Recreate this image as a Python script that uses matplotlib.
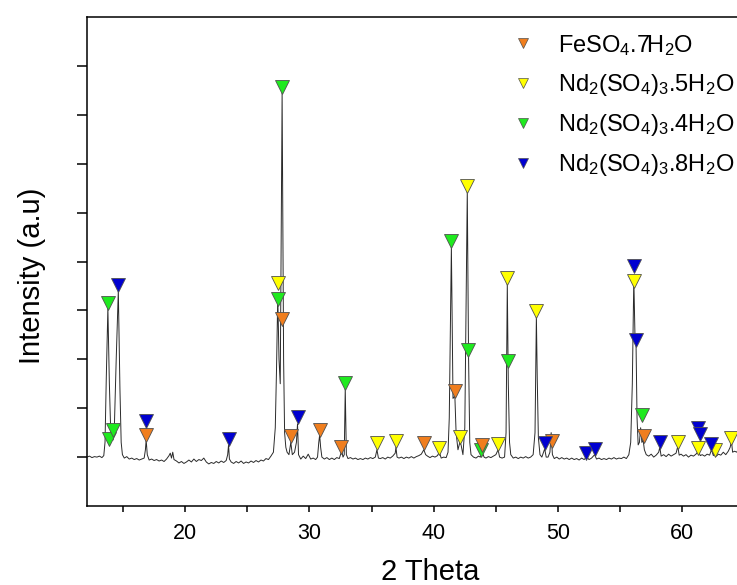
import matplotlib
matplotlib.use("Agg")
import matplotlib.pyplot as plt
from matplotlib.lines import Line2D

plt.rcParams["font.family"] = ["Liberation Sans", "DejaVu Sans"]
plt.rcParams["mathtext.default"] = "regular"

# XRD trace (2 theta, intensity in tick units)
theta = [
    12.1, 12.3, 12.5, 12.7, 12.9, 13.1, 13.3, 13.45, 13.55, 13.65, 13.78, 13.9,
    14.0, 14.1, 14.2, 14.3, 14.45, 14.62, 14.75, 14.85, 14.95, 15.1, 15.3, 15.5,
    15.7, 15.9, 16.1, 16.3, 16.5, 16.7, 16.8, 16.86, 16.95, 17.1, 17.3, 17.5,
    17.7, 17.9, 18.1, 18.3, 18.5, 18.7, 18.8, 18.9, 19.0, 19.1, 19.3, 19.5,
    19.7, 19.9, 20.1, 20.3, 20.5, 20.7, 20.9, 21.1, 21.3, 21.5, 21.7, 21.9,
    22.1, 22.3, 22.5, 22.7, 22.9, 23.1, 23.3, 23.42, 23.49, 23.56, 23.7, 23.9,
    24.1, 24.3, 24.5, 24.7, 24.9, 25.1, 25.3, 25.5, 25.7, 25.9, 26.1, 26.3,
    26.5, 26.7, 26.9, 27.1, 27.25, 27.35, 27.45, 27.55, 27.65, 27.8, 27.92, 28.0,
    28.1, 28.2, 28.35, 28.5, 28.62, 28.8, 28.95, 29.04, 29.12, 29.3, 29.5, 29.7,
    29.9, 30.1, 30.3, 30.5, 30.65, 30.75, 30.82, 30.9, 31.0, 31.2, 31.4, 31.6,
    31.8, 32.0, 32.2, 32.4, 32.5, 32.6, 32.7, 32.8, 32.88, 32.97, 33.1, 33.3,
    33.5, 33.7, 33.9, 34.1, 34.3, 34.5, 34.7, 34.9, 35.1, 35.3, 35.43, 35.55,
    35.7, 35.9, 36.1, 36.3, 36.5, 36.7, 36.9, 36.96, 37.05, 37.2, 37.4, 37.6,
    37.8, 38.0, 38.2, 38.4, 38.6, 38.8, 39.0, 39.2, 39.35, 39.5, 39.7, 39.9,
    40.1, 40.3, 40.45, 40.6, 40.8, 41.0, 41.15, 41.25, 41.42, 41.55, 41.7, 41.8,
    41.95, 42.1, 42.2, 42.35, 42.5, 42.6, 42.7, 42.8, 42.9, 43.0, 43.2, 43.4,
    43.6, 43.75, 43.9, 44.05, 44.2, 44.4, 44.6, 44.8, 45.0, 45.18, 45.3, 45.5,
    45.7, 45.82, 45.92, 46.0, 46.1, 46.2, 46.4, 46.6, 46.8, 47.0, 47.2, 47.4,
    47.6, 47.8, 48.0, 48.15, 48.26, 48.33, 48.42, 48.55, 48.7, 48.93, 49.05, 49.2,
    49.35, 49.45, 49.55, 49.7, 49.9, 50.1, 50.3, 50.5, 50.7, 50.9, 51.1, 51.3,
    51.5, 51.7, 51.9, 52.1, 52.3, 52.5, 52.7, 52.95, 53.1, 53.3, 53.5, 53.7,
    53.9, 54.1, 54.3, 54.5, 54.7, 54.9, 55.1, 55.3, 55.5, 55.7, 55.85, 55.98,
    56.1, 56.2, 56.28, 56.36, 56.45, 56.55, 56.65, 56.75, 56.85, 56.95, 57.1, 57.3,
    57.5, 57.7, 57.9, 58.1, 58.19, 58.3, 58.5, 58.7, 58.9, 59.1, 59.3, 59.5,
    59.64, 59.75, 59.9, 60.1, 60.3, 60.5, 60.7, 60.9, 61.1, 61.3, 61.45, 61.6,
    61.8, 62.0, 62.2, 62.35, 62.5, 62.6, 62.75, 62.9, 63.1, 63.3, 63.5, 63.7,
    63.85, 63.96, 64.05, 64.2, 64.4, 64.6, 64.8, 65.2, 65.6, 66.0, 66.5, 67.0,
    67.4,
]
counts = [
    0.00, 0.02, -0.01, 0.01, 0.00, 0.02, -0.01, 0.03, 0.30, 1.60, 3.05, 1.50,
    0.60, 0.45, 0.35, 0.60, 2.00, 3.40, 1.40, 0.30, 0.05, -0.02, 0.01, -0.04,
    -0.02, -0.05, -0.03, -0.06, -0.04, -0.02, 0.15, 0.35, 0.05, -0.06, -0.04, -0.07,
    -0.05, -0.08, -0.06, -0.09, -0.04, 0.03, 0.08, -0.02, 0.10, -0.05, -0.08, -0.12,
    -0.09, -0.13, -0.10, -0.06, -0.10, -0.04, -0.09, -0.05, -0.07, -0.02, -0.10, -0.14,
    -0.11, -0.13, -0.09, -0.12, -0.08, -0.11, -0.07, 0.05, 0.25, -0.04, -0.10, -0.13,
    -0.09, -0.12, -0.08, -0.13, -0.10, -0.12, -0.08, -0.11, -0.07, -0.10, -0.06, -0.08,
    -0.03, -0.05, 0.02, 0.10, 0.60, 1.80, 3.30, 2.00, 1.50, 7.45, 2.00, 0.50,
    0.20, 0.10, 0.05, 0.30, 0.05, 0.10, 0.30, 0.68, 0.05, -0.04, 0.02, -0.03,
    0.06, -0.04, -0.02, -0.05, 0.00, 0.30, 0.45, 0.20, 0.00, -0.04, -0.01, -0.05,
    -0.02, -0.05, -0.01, -0.03, 0.05, 0.12, 0.00, 0.05, 1.40, 0.05, -0.03, -0.01,
    -0.04, -0.02, -0.05, -0.03, -0.05, -0.02, -0.04, -0.01, -0.03, 0.00, 0.15, -0.02,
    -0.03, -0.01, -0.04, 0.00, -0.02, 0.02, 0.08, 0.20, 0.00, -0.02, 0.00, -0.03,
    0.00, -0.02, 0.01, -0.02, 0.01, 0.03, 0.06, 0.15, 0.05, 0.02, -0.01, 0.02,
    0.00, 0.03, 0.10, -0.02, 0.00, -0.01, 0.10, 0.80, 4.30, 1.20, 1.25, 0.50,
    0.15, 0.30, 0.25, 0.05, 0.60, 3.00, 5.45, 2.10, 0.30, 0.05, 0.00, -0.02,
    0.02, 0.00, 0.10, 0.00, -0.02, 0.01, -0.01, 0.02, 0.05, 0.15, 0.00, -0.02,
    0.00, 0.50, 3.55, 1.50, 0.30, 0.05, -0.02, 0.00, -0.03, 0.00, -0.02, 0.01,
    -0.02, 0.00, 0.05, 0.50, 2.88, 1.60, 0.40, 0.05, 0.00, 0.17, 0.00, 0.00,
    0.10, 0.50, 0.05, -0.03, 0.00, -0.04, -0.01, -0.04, -0.02, -0.05, -0.02, -0.05,
    -0.03, -0.06, -0.02, -0.05, 0.00, -0.05, -0.02, 0.05, -0.04, -0.02, -0.05, -0.03,
    -0.05, -0.02, -0.04, -0.01, -0.04, -0.02, -0.03, 0.00, -0.03, 0.05, 0.30, 1.50,
    3.65, 2.40, 2.30, 0.80, 0.25, 0.30, 0.60, 0.30, 0.35, 0.15, 0.05, 0.02,
    0.06, 0.00, 0.04, 0.10, 0.20, 0.02, 0.05, 0.01, 0.06, 0.02, 0.05, 0.08,
    0.22, 0.04, 0.06, 0.02, 0.05, 0.00, 0.04, 0.02, 0.06, 0.12, 0.03, 0.05,
    0.02, 0.06, 0.04, 0.15, 0.03, 0.07, 0.02, 0.06, 0.04, 0.10, 0.05, 0.12,
    0.20, 0.32, 0.10, 0.12, 0.10, 0.25, 0.08, 0.12, 0.06, 0.15, 0.08, 0.10,
    0.05,
]

# phase markers (2 theta, height)
fe7_x = [16.86, 27.78, 28.51, 30.81, 32.56, 39.24, 41.74, 43.9, 49.52, 56.9]
fe7_y = [0.46, 2.82, 0.43, 0.56, 0.21, 0.28, 1.35, 0.24, 0.33, 0.43]

nd5_x = [27.46, 35.43, 36.96, 40.45, 42.14, 42.68, 45.18, 45.9, 48.26, 56.1,
         59.64, 61.27, 62.6, 63.96]
nd5_y = [3.56, 0.28, 0.33, 0.18, 0.41, 5.55, 0.27, 3.67, 2.99, 3.6,
         0.31, 0.19, 0.14, 0.40]

nd4_x = [13.8, 13.9, 14.2, 27.46, 27.81, 32.88, 41.42, 42.76, 43.83, 45.98, 56.77]
nd4_y = [3.16, 0.37, 0.55, 3.24, 7.57, 1.52, 4.41, 2.18, 0.15, 1.97, 0.86]

nd8_x = [14.63, 16.86, 23.49, 29.04, 48.93, 52.29, 52.96, 56.15, 56.29, 58.19,
         61.28, 61.41, 62.35]
nd8_y = [3.51, 0.74, 0.37, 0.82, 0.28, 0.09, 0.16, 3.9, 2.40, 0.30,
         0.59, 0.48, 0.26]

phases = [
    (fe7_x, fe7_y, "#F07E1E", r"FeSO$_4$.7H$_2$O", 5),
    (nd5_x, nd5_y, "#FFFF00", r"Nd$_2$(SO$_4$)$_3$.5H$_2$O", 3),
    (nd4_x, nd4_y, "#1FEA1F", r"Nd$_2$(SO$_4$)$_3$.4H$_2$O", 4),
    (nd8_x, nd8_y, "#0000D0", r"Nd$_2$(SO$_4$)$_3$.8H$_2$O", 6),
]

fig = plt.figure(figsize=(7.37, 5.85), dpi=100)
ax = fig.add_axes([87 / 737, 79 / 585, 686 / 737, 489 / 585])

ax.plot(theta, counts, color="#2a2a2a", lw=0.7, zorder=2)

handles = []
for xs, ys, col, lab, z in phases:
    ax.plot(xs, ys, linestyle="none", marker="v", markersize=10.5,
            markerfacecolor=col, markeredgecolor="#505050", markeredgewidth=0.6,
            zorder=z)
    handles.append(Line2D([], [], linestyle="none", marker="v", markersize=7,
                          markerfacecolor=col, markeredgecolor="#505050",
                          markeredgewidth=0.5, label=lab))

ax.set_xlim(12.1, 67.3)
ax.set_ylim(-1, 9)
ax.set_xticks([20, 30, 40, 50, 60])
ax.set_xticks([15, 25, 35, 45, 55, 65], minor=True)
ax.set_yticks(range(0, 9))
ax.set_yticklabels([])
ax.tick_params(axis="x", which="both", direction="out", length=4.5, width=1.1,
               labelsize=15.5, pad=8)
ax.tick_params(axis="y", direction="out", length=7, width=1.1)
for side in ["left", "bottom", "top"]:
    ax.spines[side].set_linewidth(1.1)
ax.spines["right"].set_visible(False)

ax.set_xlabel("2 Theta", fontsize=21)
ax.xaxis.set_label_coords(0.5, -0.107)
ax.set_ylabel("Intensity (a.u)", fontsize=21)
ax.yaxis.set_label_coords(-0.06, 0.47)

fig.legend(handles=handles, loc="upper left", bbox_to_anchor=(0.693, 0.944),
           frameon=False, fontsize=17, handlelength=1.0, handletextpad=1.0,
           labelspacing=0.6, borderpad=0, borderaxespad=0)

fig.savefig("out.png", dpi=100)
